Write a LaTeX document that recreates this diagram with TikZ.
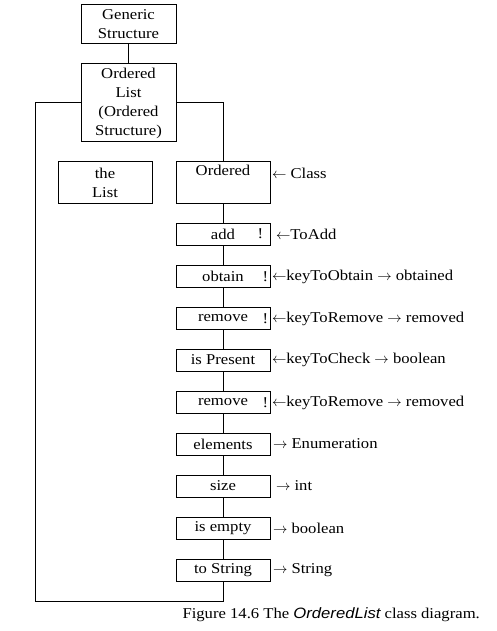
\documentclass[tikz,border=0pt]{standalone}
\usepackage{fontspec}
\setmainfont[FakeStretch=1.11]{Liberation Serif}
\newfontfamily\capsans[FakeStretch=1.11]{Liberation Sans}
\usetikzlibrary{positioning}

\tikzset{
  box/.style={draw, line width=1pt, minimum width=94pt, inner sep=0pt, align=center},
  methodbox/.style={box, minimum height=22pt},
  sidelabel/.style={inner sep=0pt},
}

\begin{document}
\begin{tikzpicture}[x=1pt, y=-1pt, line width=1pt,
    every node/.style={font=\fontsize{15}{19}\selectfont}]
    \useasboundingbox (0,0) rectangle (497,631);

    % --- Jerarquia superior ---
    \node[box, minimum width=95pt, minimum height=39pt] (generic) at (128.5, 24.5) {Generic\\Structure};
    \node[box, minimum width=95pt, minimum height=78pt] (olist) at (128.5, 103) {Ordered\\List\\(Ordered\\Structure)};
    \draw (generic) -- (olist);

    % --- Clases hijas ---
    \node[box, minimum height=41pt] (thelist) at (105, 182.5) {the\\List};
    \node[box, minimum height=41pt] (ordered) at (223, 182.5) {Ordered\\\strut};
    \node[sidelabel, right=1pt of ordered.east, anchor=west, yshift=9pt] (classlbl) {$\leftarrow$ Class};
    \draw (olist.east) -| (ordered.north);

    % --- Metodos ---
    \foreach \nm/\txt/\py/\gap/\side in {
        add/add/234/5/{$\leftarrow$ToAdd},
        obtain/obtain/276.5/1/{$\leftarrow$keyToObtain $\rightarrow$ obtained},
        removeA/remove/318.5/1/{$\leftarrow$keyToRemove $\rightarrow$ removed},
        present/is Present/360/1/{$\leftarrow$keyToCheck $\rightarrow$ boolean},
        removeB/remove/402.5/1/{$\leftarrow$keyToRemove $\rightarrow$ removed},
        elements/elements/444/2/{$\rightarrow$ Enumeration},
        size/size/486/5/{$\rightarrow$ int},
        empty/is empty/528/2/{$\rightarrow$ boolean},
        tostr/to String/570/2/{$\rightarrow$ String}} {
      \node[methodbox] (\nm) at (223, \py) {\txt};
      \node[sidelabel, anchor=west, right=\gap pt of \nm.east] (\nm lbl) {\side};
    }

    % --- Marcas "!" ---
    \foreach \nm/\dx in {add/10, obtain/5, removeA/5, removeB/5} {
      \node[sidelabel] (\nm bang) at ([xshift=-\dx pt]\nm.east) {!};
    }

    % --- Cadena vertical ---
    \foreach \a/\b in {ordered/add, add/obtain, obtain/removeA, removeA/present,
                       present/removeB, removeB/elements, elements/size,
                       size/empty, empty/tostr} {
      \draw (\a.south) -- (\b.north);
    }

    % --- Retorno izquierdo ---
    \coordinate (corner) at (35, 601);
    \draw (olist.west) -| (corner) -| (tostr.south);

    % --- Pie de figura ---
    \node[sidelabel, anchor=base west] (caption) at (182, 618)
      {Figure 14.6 The {\capsans\itshape OrderedList} class diagram.};
\end{tikzpicture}
\end{document}
